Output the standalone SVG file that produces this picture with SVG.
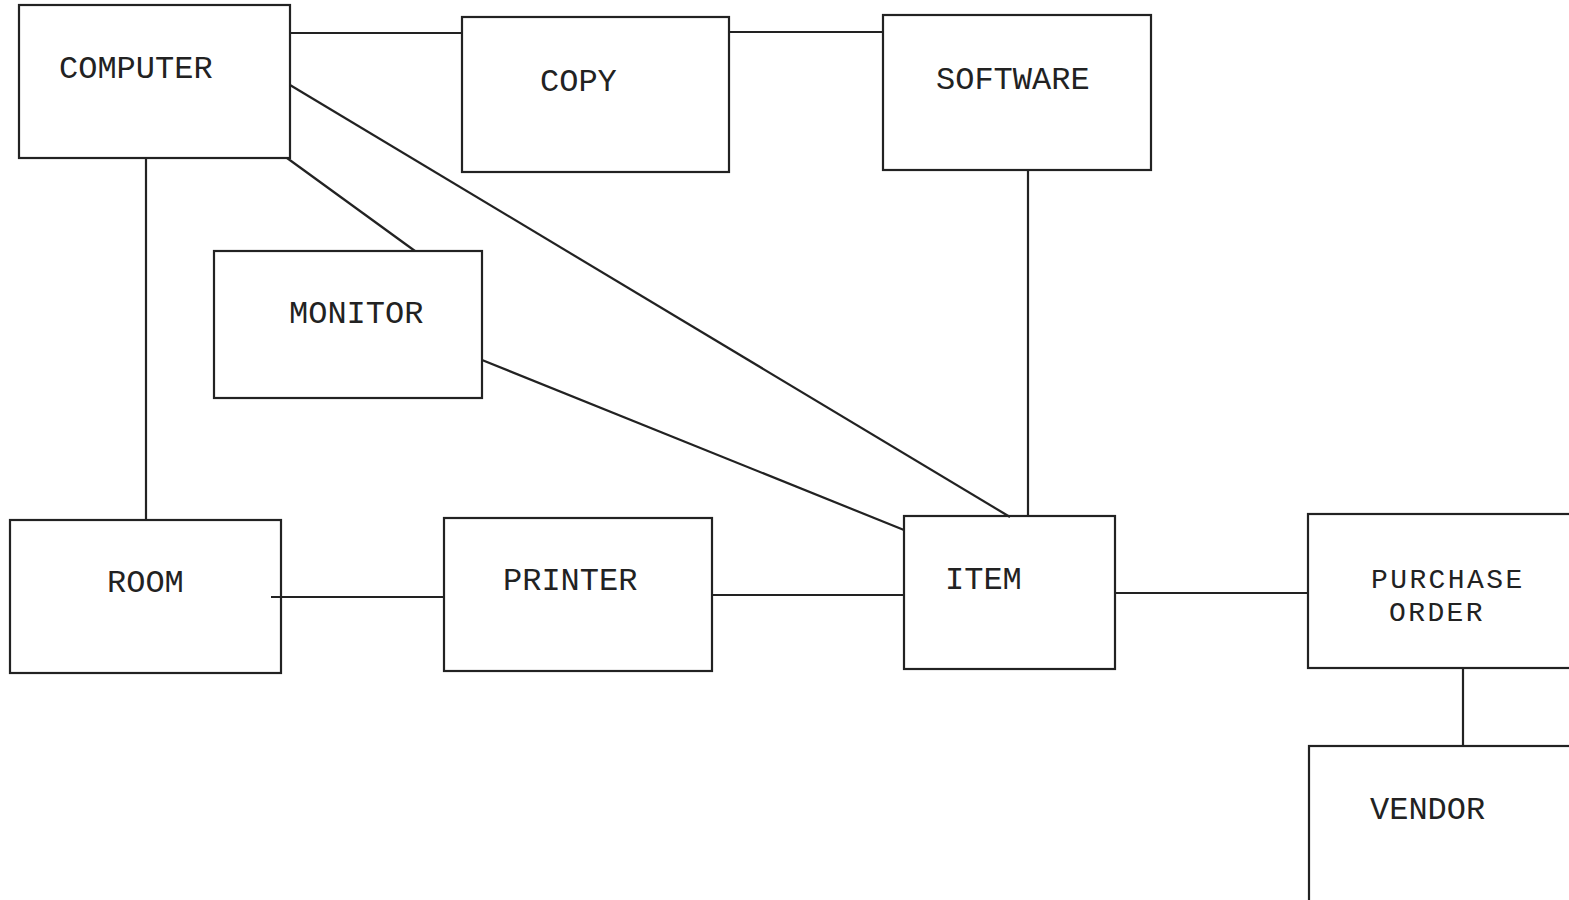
<svg xmlns="http://www.w3.org/2000/svg" width="1569" height="900" viewBox="0 0 1569 900">
<style>
.box{fill:#fff;stroke:#222;stroke-width:2.2}
.lbl{font-family:"Liberation Mono","Courier New",monospace;font-size:32px;fill:#222}
.lbl2{font-family:"Liberation Mono","Courier New",monospace;font-size:28px;letter-spacing:2.4px;fill:#222}
.con line{stroke:#222;stroke-width:2.2;fill:none}
</style>
<rect width="1569" height="900" fill="#fff"/>
<g id="computer"><rect class="box" x="19" y="5" width="271" height="153"/><text class="lbl" x="59" y="78">COMPUTER</text></g>
<g id="copy"><rect class="box" x="462" y="17" width="267" height="155"/><text class="lbl" x="540" y="91">COPY</text></g>
<g id="software"><rect class="box" x="883" y="15" width="268" height="155"/><text class="lbl" x="936" y="89">SOFTWARE</text></g>
<g id="monitor"><rect class="box" x="214" y="251" width="268" height="147"/><text class="lbl" x="289" y="323">MONITOR</text></g>
<g id="room"><rect class="box" x="10" y="520" width="271" height="153"/><text class="lbl" x="107" y="592">ROOM</text></g>
<g id="printer"><rect class="box" x="444" y="518" width="268" height="153"/><text class="lbl" x="503" y="590">PRINTER</text></g>
<g id="item"><rect class="box" x="904" y="516" width="211" height="153"/><text class="lbl" x="945" y="589">ITEM</text></g>
<g id="purchase-order"><rect class="box" x="1308" y="514" width="270" height="154"/><text class="lbl2" x="1371" y="588">PURCHASE</text><text class="lbl2" x="1389" y="621">ORDER</text></g>
<g id="vendor"><rect class="box" x="1309" y="746" width="270" height="170"/><text class="lbl" x="1370" y="819">VENDOR</text></g>
<g id="connectors" class="con">
<line x1="290" y1="33" x2="462" y2="33"/>
<line x1="729" y1="32" x2="883" y2="32"/>
<line x1="290" y1="85" x2="1010" y2="517"/>
<line x1="287" y1="158" x2="415" y2="251"/>
<line x1="146" y1="158" x2="146" y2="520"/>
<line x1="482" y1="360" x2="904" y2="530"/>
<line x1="1028" y1="170" x2="1028" y2="516"/>
<line x1="271" y1="597" x2="444" y2="597"/>
<line x1="712" y1="595" x2="904" y2="595"/>
<line x1="1115" y1="593" x2="1308" y2="593"/>
<line x1="1463" y1="668" x2="1463" y2="746"/>
</g>
</svg>
